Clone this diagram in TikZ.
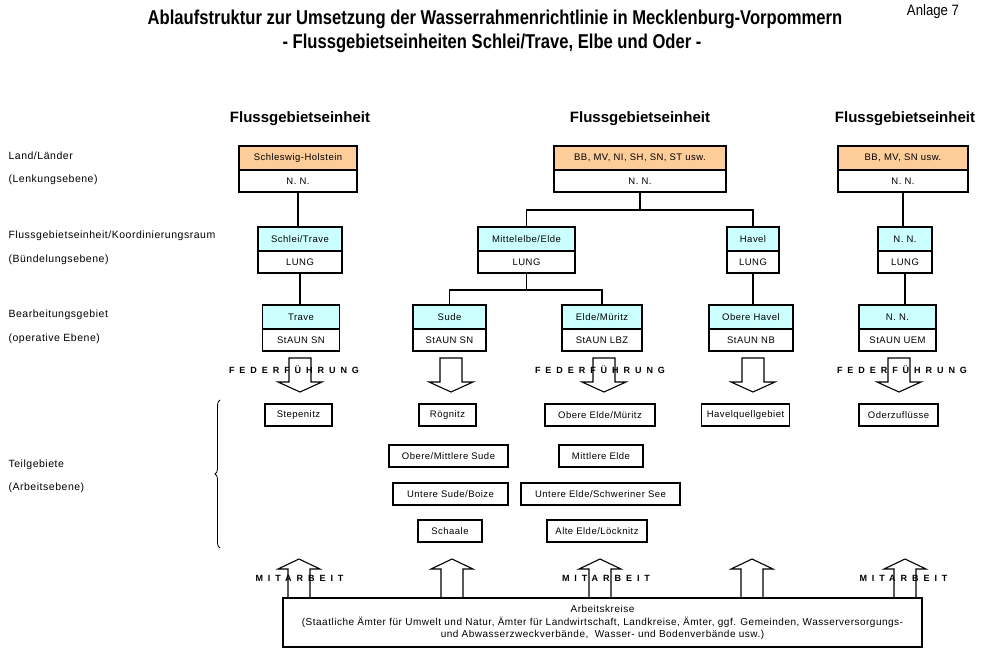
\documentclass[tikz,border=0pt]{standalone}
\usepackage{fontspec}
\setmainfont{Liberation Sans}[LetterSpace=5]
\newfontfamily\titlefont{Liberation Sans}
\newfontfamily\spacedfont{Liberation Sans}[LetterSpace=55]
\usetikzlibrary{positioning, decorations.pathreplacing}
\definecolor{landfill}{RGB}{252,204,153}
\definecolor{fgfill}{RGB}{204,255,255}
\tikzset{
  upperbox/.style={draw, line width=1.3pt, fill=#1, minimum height=24pt, inner sep=1pt, outer sep=0pt, font=\fontsize{9.5}{10}\selectfont, anchor=north},
  lowerbox/.style={draw, line width=1.3pt, fill=white, minimum height=22pt, inner sep=1pt, outer sep=0pt, font=\fontsize{9.5}{10}\selectfont, below=0pt of #1},
  teilbox/.style={draw, line width=1.1pt, minimum height=22pt, inner sep=1pt, font=\fontsize{9.5}{10}\selectfont},
  levellabel/.style={anchor=west, inner sep=0pt, font=\fontsize{10.5}{12}\selectfont},
  heading/.style={inner sep=0pt, font=\titlefont\fontsize{15}{16}\selectfont\bfseries},
  spaced/.style={inner sep=0pt, font=\spacedfont\bfseries\fontsize{9}{10}\selectfont},
  blockarrow/.style={line width=1.1pt, line join=miter},
}
\begin{document}
\begin{tikzpicture}[x=1pt, y=-1pt, line width=1.1pt]
\useasboundingbox (0,0) rectangle (981,660);

% Title
\node[font=\titlefont\bfseries\fontsize{20}{22}\selectfont, inner sep=0pt] (title) at (495,19) {\scalebox{0.83}[1]{Ablaufstruktur zur Umsetzung der Wasserrahmenrichtlinie in Mecklenburg-Vorpommern}};
\node[font=\titlefont\bfseries\fontsize{20}{22}\selectfont, inner sep=0pt] (subtitle) at (492,43) {\scalebox{0.83}[1]{- Flussgebietseinheiten Schlei/Trave, Elbe und Oder -}};
\node[font=\titlefont\fontsize{15}{16}\selectfont, inner sep=0pt] (anlage) at (933,12) {\scalebox{0.88}[1]{Anlage 7}};

% Levels on the left
\node[levellabel] (lvlLand) at (8,156) {Land/Länder};
\node[levellabel] (lvlLandSub) at (8,180) {(Lenkungsebene)};
\node[levellabel] (lvlFge) at (8,236) {Flussgebietseinheit/Koordinierungsraum};
\node[levellabel] (lvlFgeSub) at (8,260) {(Bündelungsebene)};
\node[levellabel] (lvlBg) at (8,315) {Bearbeitungsgebiet};
\node[levellabel] (lvlBgSub) at (8,339) {(operative Ebene)};
\node[levellabel] (lvlTg) at (8,465) {Teilgebiete};
\node[levellabel] (lvlTgSub) at (8,488) {(Arbeitsebene)};

% Column headings
\node[heading] (headST) at (300,119) {Flussgebietseinheit};
\node[heading] (headElbe) at (640,119) {Flussgebietseinheit};
\node[heading] (headOder) at (905,119) {Flussgebietseinheit};

% Land/Laender
\node[upperbox=landfill, minimum width=118pt] (landSH) at (298,146) {Schleswig-Holstein};
\node[lowerbox=landSH, minimum width=118pt] (landSHnn) {N.~N.};
\node[upperbox=landfill, minimum width=172pt] (landElbe) at (640,146) {BB, MV, NI, SH, SN, ST usw.};
\node[lowerbox=landElbe, minimum width=172pt] (landElbenn) {N.~N.};
\node[upperbox=landfill, minimum width=130pt] (landOder) at (903,146) {BB, MV, SN usw.};
\node[lowerbox=landOder, minimum width=130pt] (landOdernn) {N.~N.};

% Flussgebietseinheit/Koordinierungsraum
\node[upperbox=fgfill, minimum width=84pt] (fgST) at (300,227) {Schlei/Trave};
\node[lowerbox=fgST, minimum width=84pt] (fgSTlung) {LUNG};
\node[upperbox=fgfill, minimum width=97pt] (fgMElde) at (526.5,227) {Mittelelbe/Elde};
\node[lowerbox=fgMElde, minimum width=97pt] (fgMEldelung) {LUNG};
\node[upperbox=fgfill, minimum width=52pt] (fgHavel) at (753,227) {Havel};
\node[lowerbox=fgHavel, minimum width=52pt] (fgHavellung) {LUNG};
\node[upperbox=fgfill, minimum width=54pt] (fgOder) at (905,227) {N.~N.};
\node[lowerbox=fgOder, minimum width=54pt] (fgOderlung) {LUNG};

% Bearbeitungsgebiet
\node[upperbox=fgfill, minimum width=77pt] (bgTrave) at (301,305) {Trave};
\node[lowerbox=bgTrave, minimum width=77pt] (bgTravestaun) {StAUN SN};
\node[upperbox=fgfill, minimum width=73pt] (bgSude) at (449.5,305) {Sude};
\node[lowerbox=bgSude, minimum width=73pt] (bgSudestaun) {StAUN SN};
\node[upperbox=fgfill, minimum width=80pt] (bgElde) at (602,305) {Elde/Müritz};
\node[lowerbox=bgElde, minimum width=80pt] (bgEldestaun) {StAUN LBZ};
\node[upperbox=fgfill, minimum width=84pt] (bgHavel) at (751,305) {Obere Havel};
\node[lowerbox=bgHavel, minimum width=84pt] (bgHavelstaun) {StAUN NB};
\node[upperbox=fgfill, minimum width=77pt] (bgOder) at (897.5,305) {N.~N.};
\node[lowerbox=bgOder, minimum width=77pt] (bgOderstaun) {StAUN UEM};

% Connectors
\coordinate[below=18pt of landElbenn.south] (elbeFork);
\coordinate[below=17pt of fgMEldelung.south] (eldeFork);
\draw (landSHnn.south) -- (landSHnn.south |- fgST.north);
\draw (landElbenn.south) -- (elbeFork);
\draw (fgMElde.north) |- (elbeFork) -| (fgHavel.north);
\draw (landOdernn.south) -- (landOdernn.south |- fgOder.north);
\draw (fgSTlung.south) -- (fgSTlung.south |- bgTrave.north);
\draw (fgMEldelung.south) -- (eldeFork);
\draw (bgSude.north) |- (eldeFork) -| (bgElde.north);
\draw (fgHavellung.south) -- (fgHavellung.south |- bgHavel.north);
\draw (fgOderlung.south) -- (fgOderlung.south |- bgOder.north);

% Federfuehrung arrows
\foreach \cx in {300,451,604,753,899}
  \draw[blockarrow] (\cx-11,358) -- (\cx+11,358) -- (\cx+11,382) -- (\cx+22,382) -- (\cx,392) -- (\cx-22,382) -- (\cx-11,382) -- cycle;
\node[spaced] (federST) at (294,370) {FEDERFÜHRUNG};
\node[spaced] (federElbe) at (600,370) {FEDERFÜHRUNG};
\node[spaced] (federOder) at (902,370) {FEDERFÜHRUNG};

% Teilgebiete
\node[teilbox, minimum width=67pt] (tgStepenitz) at (298.5,415) {Stepenitz};
\node[teilbox, minimum width=57pt] (tgRoegnitz) at (447.5,415) {Rögnitz};
\node[teilbox, minimum width=110pt] (tgObereElde) at (600,415) {Obere Elde/Müritz};
\node[teilbox, minimum width=88pt] (tgHavelquell) at (745.5,415) {Havelquellgebiet};
\node[teilbox, minimum width=79pt] (tgOderzufl) at (898.5,415) {Oderzuflüsse};
\node[teilbox, minimum width=119pt] (tgObereSude) at (448.5,456) {Obere/Mittlere Sude};
\node[teilbox, minimum width=84pt] (tgMittlereElde) at (601,456) {Mittlere Elde};
\node[teilbox, minimum width=115pt] (tgUntereSude) at (450.5,494) {Untere Sude/Boize};
\node[teilbox, minimum width=159pt] (tgUntereElde) at (600.5,494) {Untere Elde/Schweriner See};
\node[teilbox, minimum width=64pt] (tgSchaale) at (450,531) {Schaale};
\node[teilbox, minimum width=100pt] (tgAlteElde) at (597,531) {Alte Elde/Löcknitz};
\draw[line width=0.8pt, decorate, decoration={brace, amplitude=5pt}] (220,548) -- (220,400);

% Mitarbeit arrows
\foreach \cx in {299,452,600,752,905}
  \draw[blockarrow] (\cx-11,598) -- (\cx-11,569) -- (\cx-21,569) -- (\cx,559) -- (\cx+21,569) -- (\cx+11,569) -- (\cx+11,598);
\node[spaced] (mitST) at (299.5,578) {MITARBEIT};
\node[spaced] (mitElbe) at (606,578) {MITARBEIT};
\node[spaced] (mitOder) at (903.5,578) {MITARBEIT};

% Arbeitskreise
\node[draw, line width=1.1pt, minimum width=639pt, minimum height=49pt, align=center, inner sep=1pt, font=\fontsize{10}{12.5}\selectfont] (arbeit) at (602.5,622.5) {Arbeitskreise\\(Staatliche Ämter für Umwelt und Natur, Ämter für Landwirtschaft, Landkreise, Ämter, ggf. Gemeinden, Wasserversorgungs-\\und Abwasserzweckverbände,\ \ Wasser- und Bodenverbände usw.)};
\end{tikzpicture}
\end{document}
